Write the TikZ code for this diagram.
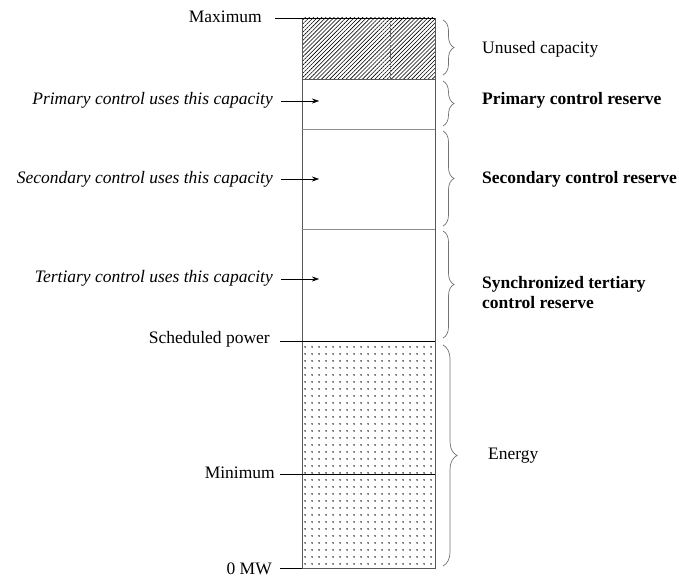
\documentclass[tikz,border=0pt]{standalone}
\usepackage{fontspec}
\setmainfont{Liberation Serif}
\usetikzlibrary{arrows.meta, positioning, calc, patterns.meta, decorations.pathreplacing}

\begin{document}
\begin{tikzpicture}[
    x=1pt, y=-1pt,
    every node/.style={font=\fontsize{17.5}{20}\selectfont, inner sep=0pt},
    >={Stealth[length=7pt, width=5pt]},
    frame/.style={draw=black!65, line width=0.8pt},
    tick/.style={draw=black, line width=0.6pt},
    brace/.style={draw=black!55, line width=0.7pt, decorate, decoration={brace, amplitude=11pt}},
    uses/.style={font=\fontsize{17.5}{20}\selectfont\itshape, anchor=east},
    level/.style={anchor=east},
    reserve/.style={font=\fontsize{17.5}{20}\selectfont\bfseries, anchor=west, align=left}
]
\useasboundingbox (0,0) rectangle (679,577);

% shaded parts of the column
\fill[pattern={Lines[angle=45, distance=2.9pt, line width=0.6pt]}] (302,18) rectangle (435,79);
\draw[black!60, densely dotted, line width=0.4pt] (390,18) -- (390,79);
\fill[pattern={Dots[distance=6.5pt, radius=0.85pt]}, pattern color=black] (302,341) rectangle (435,568);

% column
\draw[frame] (302,18) rectangle (435,568);
\draw[frame] (302,79) -- (435,79);
\draw[black!45, line width=0.7pt] (302,129) -- (435,129);
\draw[black!45, line width=0.7pt] (302,229) -- (435,229);

% levels on the left
\node (max)   at (262,17)  [level] {Maximum};
\node (sched) at (270,339) [level] {Scheduled power};
\node (min)   at (275,473) [level] {Minimum};
\node (zero)  at (272,569) [level] {0 MW};
\coordinate (maxa)   at (275,18);   \coordinate (maxb)   at (435,18);
\coordinate (scheda) at (280,341);  \coordinate (schedb) at (435,341);
\coordinate (mina)   at (280,474);  \coordinate (minb)   at (435,474);
\coordinate (zeroa)  at (280,568);  \coordinate (zerob)  at (302,568);
\draw[tick] (maxa) -- (maxb);
\draw[tick] (scheda) -- (schedb);
\draw[tick] (mina) -- (minb);
\draw[tick] (zeroa) -- (zerob);

% who uses which capacity
\node (prim) at (273,100) [uses] {Primary control uses this capacity};
\node (sec)  at (273,179) [uses] {Secondary control uses this capacity};
\node (ter)  at (273,278) [uses] {Tertiary control uses this capacity};
\coordinate (primto) at (319,101);
\coordinate (secto)  at (319,179);
\coordinate (terto)  at (319,279);
\draw[->] (prim.east) ++(8,1) -- (primto);
\draw[->] (sec.east) ++(8,0) -- (secto);
\draw[->] (ter.east) ++(8,1) -- (terto);

% braces on the right
\draw[brace] (443,20) -- (443,75);
\draw[brace] (443,81) -- (443,126);
\draw[brace] (443,131) -- (443,226);
\draw[brace] (443,231) -- (443,338);
\draw[brace, decoration={amplitude=14pt}] (443,345) -- (443,566);

\node (unused) at (482,49)  [anchor=west] {Unused capacity};
\node (pres)   at (482,100) [reserve] {Primary control reserve};
\node (sres)   at (482,179) [reserve] {Secondary control reserve};
\node (tres)   at (482,293) [reserve] {Synchronized tertiary\\control reserve};
\node (energy) at (488,456) [anchor=west] {Energy};
\end{tikzpicture}
\end{document}
